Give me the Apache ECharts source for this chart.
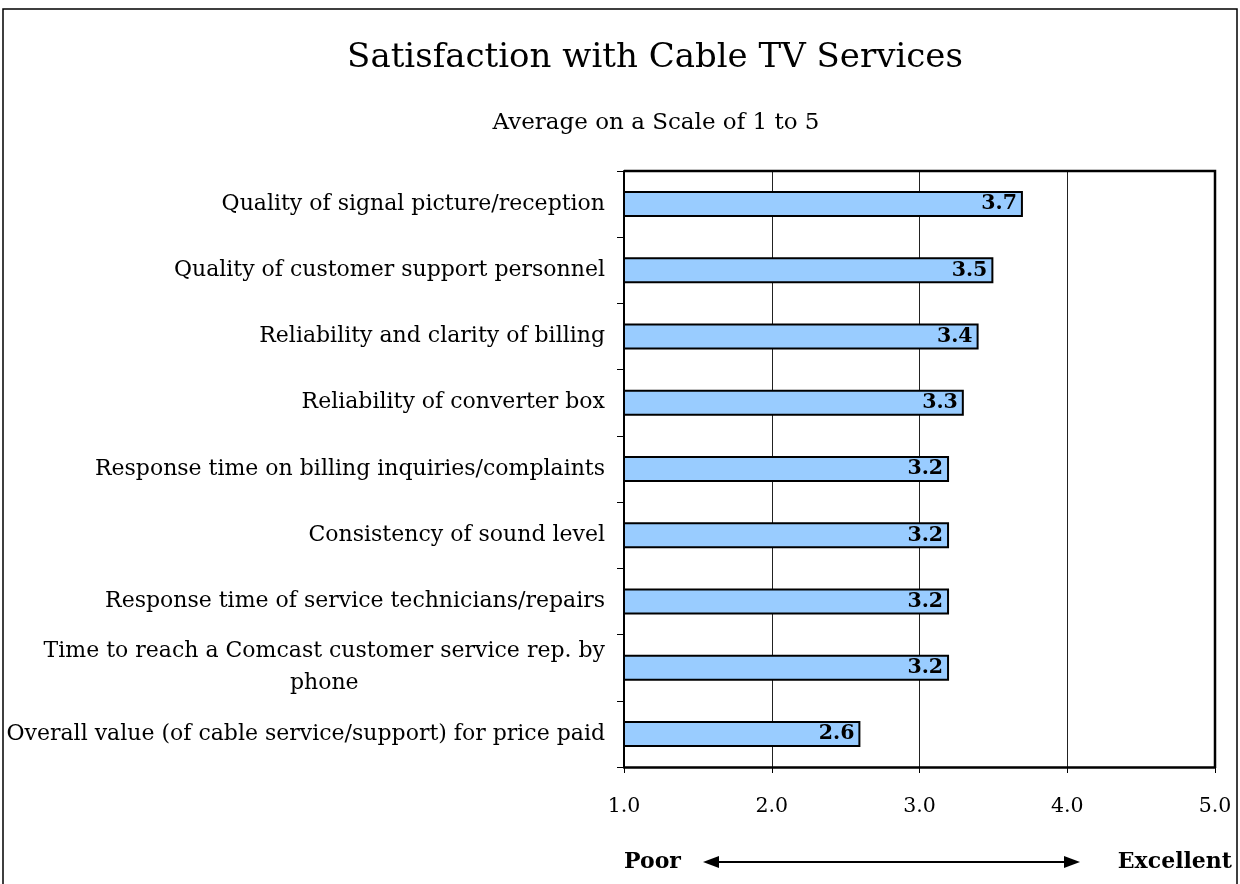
<!DOCTYPE html>
<html>
<head>
<meta charset="utf-8">
<script src="https://cdn.jsdelivr.net/npm/echarts@6/dist/echarts.min.js"></script>
<style>
  html, body { margin: 0; padding: 0; background: #fff; }
  #chart { width: 1240px; height: 884px; }
</style>
</head>
<body>
<div id="chart"></div>
<script>
// Survey items, top to bottom
const categories = [
  'Quality of signal picture/reception',
  'Quality of customer support personnel',
  'Reliability and clarity of billing',
  'Reliability of converter box',
  'Response time on billing inquiries/complaints',
  'Consistency of sound level',
  'Response time of service technicians/repairs',
  'Time to reach a Comcast customer service rep. by\nphone',
  'Overall value (of cable service/support) for price paid'
];
// Average rating on a 1-5 scale
const scores = [3.7, 3.5, 3.4, 3.3, 3.2, 3.2, 3.2, 3.2, 2.6];
const axisMin = 1;
const axisMax = 5;
const axisStep = 1;

const FONT = '"DejaVu Serif", "Liberation Serif", serif';
const LABEL_SIZE = 22;
const TICK_SIZE = 20.5;
const VALUE_SIZE = 20.5;

// width of one line of text, used to centre the lines of a wrapped label
function textWidth(str, size, weight) {
  const c = document.createElement('canvas').getContext('2d');
  c.font = (weight || 'normal') + ' ' + size + 'px ' + FONT;
  return c.measureText(str).width;
}

const wrapWidth = Math.max.apply(null,
  categories.filter(c => c.indexOf('\n') >= 0)
    .map(c => Math.max.apply(null, c.split('\n').map(l => textWidth(l, LABEL_SIZE)))));

const chart = echarts.init(document.getElementById('chart'), null, { renderer: 'canvas' });

const option = {
  backgroundColor: '#ffffff',
  animation: false,
  grid: { left: 624, right: 25, top: 171, bottom: 117, containLabel: false },
  xAxis: {
    type: 'value',
    min: axisMin,
    max: axisMax,
    interval: axisStep,
    axisLine: { show: true, lineStyle: { color: '#000', width: 2.5 } },
    axisTick: { show: true, inside: false, length: 6, lineStyle: { color: '#000', width: 1 } },
    axisLabel: {
      margin: 29,
      fontFamily: FONT,
      fontSize: TICK_SIZE,
      color: '#000',
      formatter: v => v.toFixed(1)
    },
    splitLine: { show: true, lineStyle: { color: '#222', width: 1 } }
  },
  yAxis: {
    type: 'category',
    data: categories,
    inverse: true,
    axisLine: { show: true, lineStyle: { color: '#000', width: 2 } },
    axisTick: { show: true, inside: false, length: 7, alignWithLabel: false, lineStyle: { color: '#000', width: 1 } },
    axisLabel: {
      margin: 19,
      fontFamily: FONT,
      fontSize: LABEL_SIZE,
      color: '#000',
      lineHeight: 32,
      formatter: function (v) {
        if (v.indexOf('\n') < 0) return v;
        return v.split('\n').map(l => '{c|' + l + '}').join('\n');
      },
      rich: {
        c: {
          fontFamily: FONT,
          fontSize: LABEL_SIZE,
          color: '#000',
          lineHeight: 32,
          align: 'center',
          width: wrapWidth
        }
      }
    },
    splitLine: { show: false }
  },
  series: [{
    type: 'bar',
    data: scores,
    barWidth: 26,
    itemStyle: { color: '#99CCFF', borderColor: '#000', borderWidth: 2 },
    label: {
      show: true,
      position: 'insideRight',
      distance: 6,
      fontFamily: FONT,
      fontSize: VALUE_SIZE,
      fontWeight: 'bold',
      color: '#000',
      formatter: p => p.value.toFixed(1)
    }
  }],
  graphic: [
    // outer frame
    { type: 'rect', shape: { x: 3, y: 9, width: 1234, height: 900 }, style: { fill: null, stroke: '#000', lineWidth: 1.5 }, silent: true },
    // top and right edges of the plot frame
    { type: 'polyline', shape: { points: [[624, 171], [1215, 171], [1215, 767]] }, style: { stroke: '#000', lineWidth: 2.5, fill: null }, silent: true, z: 10 },
    { type: 'text', style: { text: 'Satisfaction with Cable TV Services', font: '34px ' + FONT, fill: '#000', x: 655, y: 58, textAlign: 'center', textVerticalAlign: 'middle' } },
    { type: 'text', style: { text: 'Average on a Scale of 1 to 5', font: '23px ' + FONT, fill: '#000', x: 656, y: 123, textAlign: 'center', textVerticalAlign: 'middle' } },
    { type: 'text', style: { text: 'Poor', font: 'bold 22px ' + FONT, fill: '#000', x: 624, y: 862, textAlign: 'left', textVerticalAlign: 'middle' } },
    { type: 'text', style: { text: 'Excellent', font: 'bold 22px ' + FONT, fill: '#000', x: 1232, y: 862, textAlign: 'right', textVerticalAlign: 'middle' } },
    // scale arrow
    { type: 'line', shape: { x1: 712, y1: 862, x2: 1070, y2: 862 }, style: { stroke: '#000', lineWidth: 2 } },
    { type: 'polygon', shape: { points: [[703, 862], [719, 856], [719, 868]] }, style: { fill: '#000' } },
    { type: 'polygon', shape: { points: [[1080, 862], [1064, 856], [1064, 868]] }, style: { fill: '#000' } }
  ]
};

chart.setOption(option);
</script>
</body>
</html>
